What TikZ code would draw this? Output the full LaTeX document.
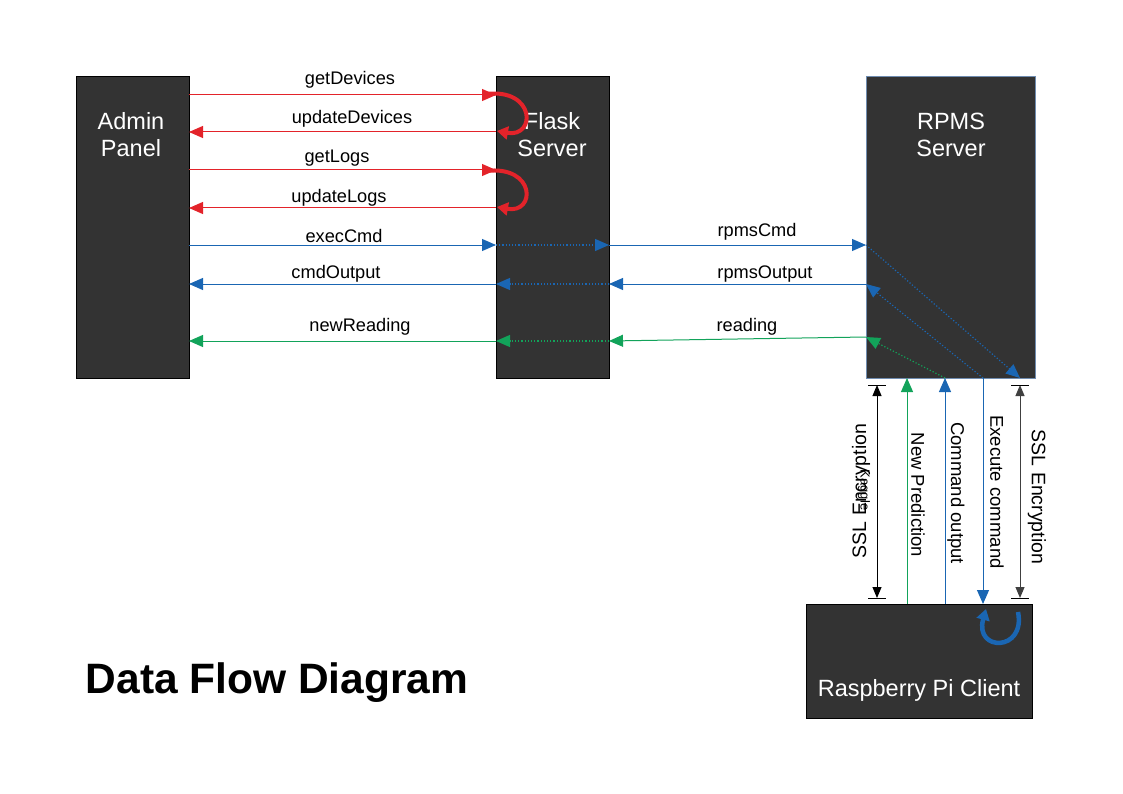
\documentclass[tikz,border=0pt]{standalone}
\usepackage{fontspec}
\setmainfont{Liberation Sans}
\usetikzlibrary{arrows.meta}
\definecolor{boxfill}{HTML}{333333}
\definecolor{fred}{HTML}{E3232A}
\definecolor{fblue}{HTML}{1A66B3}
\definecolor{fgreen}{HTML}{12A35A}
\definecolor{rpmsborder}{HTML}{6F8CB0}
\begin{document}
\begin{tikzpicture}[x=1pt,y=-1pt,
  box/.style={draw=black, fill=boxfill, line width=0.8pt, inner sep=0pt, anchor=north west},
  boxtext/.style={text=white, font=\fontsize{23.5}{27}\selectfont, align=center, inner sep=0pt},
  lbl/.style={font=\fontsize{18.2}{21}\selectfont, inner sep=0pt},
  vlbl/.style={font=\fontsize{18.5}{21}\selectfont, inner sep=0pt, rotate=-90},
  tip/.style={-{Triangle[length=14pt,width=12pt]}},
  flowline/.style={line width=1pt, tip},
  dotline/.style={line width=1.2pt, dotted, tip},
  loopline/.style={line width=4pt, -{Triangle[length=11pt,width=13pt]}},
  dimline/.style={line width=1pt, {Triangle[length=11pt,width=9pt]}-{Triangle[length=11pt,width=9pt]}},
  barline/.style={line width=1pt}
]
\useasboundingbox (0,0) rectangle (1123,794);

% boxes
\node[box, minimum width=113pt, minimum height=302pt] (admin) at (76,76) {};
\node[box, minimum width=113pt, minimum height=302pt] (flask) at (496,76) {};
\node[box, draw=rpmsborder, minimum width=169pt, minimum height=302pt] (rpms) at (866,76) {};
\node[box, minimum width=226pt, minimum height=114pt] (pi) at (806,604) {};

\node[boxtext] (adminT) at (131,135) {Admin\\Panel};
\node[boxtext] (flaskT) at (552,135) {Flask\\Server};
\node[boxtext] (rpmsT) at (951,135) {RPMS\\Server};
\node[boxtext] (piT) at (919,690) {Raspberry Pi Client};

\node[font=\bfseries\fontsize{42.5}{48}\selectfont, inner sep=0pt] (title) at (277,683) {Data Flow Diagram};

% coordinates
\coordinate (a95) at (189,95);   \coordinate (f95) at (496,95);
\coordinate (a132) at (189,132); \coordinate (f132) at (496,132);
\coordinate (a170) at (189,170); \coordinate (f170) at (496,170);
\coordinate (a208) at (189,208); \coordinate (f208) at (496,208);
\coordinate (a245) at (189,245); \coordinate (f245) at (496,245); \coordinate (g245) at (609,245); \coordinate (r245) at (866,245);
\coordinate (a284) at (189,284); \coordinate (f284) at (496,284); \coordinate (g284) at (609,284); \coordinate (r284) at (866,284);
\coordinate (a341) at (189,341); \coordinate (f341) at (496,341); \coordinate (g341) at (609,341); \coordinate (r337) at (866,337);

\coordinate (diag1end) at (1020,378);
\coordinate (diag2start) at (983,378);
\coordinate (diag3start) at (945,378);
\coordinate (newpTop) at (907,378);  \coordinate (newpBot) at (907,604);
\coordinate (cmdoTop) at (945,378);  \coordinate (cmdoBot) at (945,604);
\coordinate (execTop) at (983,378);  \coordinate (execBot) at (983,604);
\coordinate (ssl1Top) at (877,385);  \coordinate (ssl1Bot) at (877,598);
\coordinate (ssl2Top) at (1020,385); \coordinate (ssl2Bot) at (1020,598);
\coordinate (b1a) at (868,385); \coordinate (b1b) at (886,385);
\coordinate (b2a) at (868,598); \coordinate (b2b) at (886,598);
\coordinate (b3a) at (1011,385); \coordinate (b3b) at (1029,385);
\coordinate (b4a) at (1011,598); \coordinate (b4b) at (1029,598);

% red flows
\draw[flowline, fred] (a95) -- (f95);
\draw[flowline, fred] (f132) -- (a132);
\draw[flowline, fred] (a170) -- (f170);
\draw[flowline, fred] (f208) -- (a208);
\draw[loopline, fred] (486,94) .. controls (536,88) and (536,138) .. (497,131);
\draw[loopline, fred] (486,171) .. controls (536,165) and (536,214) .. (497,207);

\node[lbl] (l1) at (350,80) {getDevices};
\node[lbl] (l2) at (352,119) {updateDevices};
\node[lbl] (l3) at (337,158) {getLogs};
\node[lbl] (l4) at (339,198) {updateLogs};

% blue flows
\draw[flowline, fblue] (a245) -- (f245);
\draw[dotline, fblue] (f245) -- (g245);
\draw[flowline, fblue] (g245) -- (r245);
\draw[dotline, fblue] (r245) -- (diag1end);

\draw[flowline, fblue] (f284) -- (a284);
\draw[dotline, fblue] (g284) -- (f284);
\draw[flowline, fblue] (r284) -- (g284);
\draw[dotline, fblue] (diag2start) -- (r284);

\node[lbl] (l5) at (344,236) {execCmd};
\node[lbl] (l6) at (336,274) {cmdOutput};
\node[lbl] (l8) at (757,232) {rpmsCmd};
\node[lbl] (l9) at (765,274) {rpmsOutput};

% green flows
\draw[flowline, fgreen] (f341) -- (a341);
\draw[dotline, fgreen] (g341) -- (f341);
\draw[flowline, fgreen] (r337) -- (g341);
\draw[dotline, fgreen] (diag3start) -- (r337);

\node[lbl] (l7) at (360,327) {newReading};
\node[lbl] (l10) at (747,327) {reading};

% vertical links
\draw[flowline, fgreen] (newpBot) -- (newpTop);
\draw[flowline, fblue] (cmdoBot) -- (cmdoTop);
\draw[flowline, fblue] (execTop) -- (execBot);
\draw[dimline, black] (ssl1Top) -- (ssl1Bot);
\draw[dimline, black!75] (ssl2Top) -- (ssl2Bot);
\draw[barline] (b1a) -- (b1b);
\draw[barline] (b2a) -- (b2b);
\draw[barline] (b3a) -- (b3b);
\draw[barline] (b4a) -- (b4b);

\node[font=\fontsize{19.5}{21}\selectfont, inner sep=0pt, rotate=90] (v1) at (861,491) {SSL Encryption};
\node[font=\fontsize{13}{15}\selectfont, inner sep=0pt, rotate=-90] (v1b) at (864,490) {Kaggle};
\node[vlbl] (v2) at (918,495) {New Prediction};
\node[vlbl] (v3) at (956,493) {Command output};
\node[vlbl] (v4) at (997,492) {Execute command};
\node[font=\fontsize{19.5}{21}\selectfont, inner sep=0pt, rotate=-90] (v5) at (1037,497) {SSL Encryption};

% pi loop
\draw[line width=4.5pt, fblue, -{Triangle[length=11pt,width=13pt]}] (1018,612) .. controls (1026,652) and (974,652) .. (986,609);
\end{tikzpicture}
\end{document}
